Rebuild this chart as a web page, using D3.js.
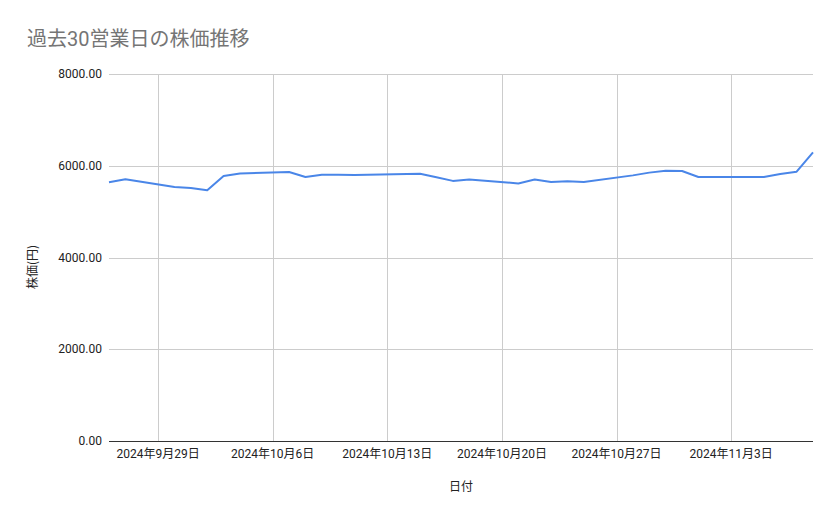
<!DOCTYPE html>
<html>
<head>
  <meta charset="utf-8">
  <title>過去30営業日の株価推移</title>
  <script src="https://d3js.org/d3.v7.min.js"></script>
  <style>
    body { margin: 0; background: #fff; }
    svg { font-family: Roboto, "Noto Sans CJK JP", sans-serif; }
    .grid line { stroke: #cccccc; stroke-width: 1; shape-rendering: crispEdges; }
    .tick-label { font-size: 12px; fill: #222; }
    .line { fill: none; stroke: #4a86e8; stroke-width: 2; stroke-linejoin: round; }
  </style>
</head>
<body>
<svg width="839" height="519"></svg>
<script>
// trading days (30 business days) and closing prices (円)
var dates = [
  "2024-09-26", "2024-09-27",
  "2024-09-30", "2024-10-01", "2024-10-02", "2024-10-03", "2024-10-04",
  "2024-10-07", "2024-10-08", "2024-10-09", "2024-10-10", "2024-10-11",
  "2024-10-15", "2024-10-16", "2024-10-17", "2024-10-18",
  "2024-10-21", "2024-10-22", "2024-10-23", "2024-10-24", "2024-10-25",
  "2024-10-28", "2024-10-29", "2024-10-30", "2024-10-31", "2024-11-01",
  "2024-11-05", "2024-11-06", "2024-11-07", "2024-11-08"
];
var prices = [
  5640, 5705,
  5535, 5515, 5465, 5775, 5830,
  5865, 5755, 5805, 5805, 5800,
  5825, 5750, 5670, 5700,
  5615, 5700, 5645, 5660, 5645,
  5790, 5850, 5890, 5885, 5755,
  5755, 5820, 5870, 6290
];
var xTickDates = ["2024-09-29", "2024-10-06", "2024-10-13", "2024-10-20", "2024-10-27", "2024-11-03"];
var yTicks = [0, 2000, 4000, 6000, 8000];

var title = "過去30営業日の株価推移",
  xTitle = "日付",
  yTitle = "株価(円)";

var parse = d3.timeParse("%Y-%m-%d"),
  fmtDate = d3.timeFormat("%Y年%-m月%-d日"),
  fmtVal = d3.format(".2f");

var data = dates.map(function(d, i) {
  return { date: parse(d), value: prices[i] };
});

var svg = d3.select("svg"),
  margin = { top: 74, right: 26, bottom: 78, left: 109 },
  width = +svg.attr("width") - margin.left - margin.right,
  height = +svg.attr("height") - margin.top - margin.bottom,
  g = svg.append("g").attr("transform", "translate(" + margin.left + "," + margin.top + ")");

var x = d3.scaleTime()
  .domain(d3.extent(data, function(d) { return d.date; }))
  .range([0, width]);

var y = d3.scaleLinear()
  .domain([0, 8000])
  .range([height, 0]);

// title
svg.append("text")
  .attr("x", 27)
  .attr("y", 46)
  .style("font-size", "20px")
  .style("fill", "#757575")
  .text(title);

// horizontal grid
var grid = g.append("g").attr("class", "grid");
grid.selectAll(".h")
  .data(yTicks.filter(function(v) { return v > 0; }))
  .enter().append("line")
  .attr("x1", 0)
  .attr("x2", width)
  .attr("y1", function(d) { return Math.round(y(d)) + 0.5; })
  .attr("y2", function(d) { return Math.round(y(d)) + 0.5; });

// vertical grid
grid.selectAll(".v")
  .data(xTickDates.map(parse))
  .enter().append("line")
  .attr("x1", function(d) { return Math.round(x(d)) + 0.5; })
  .attr("x2", function(d) { return Math.round(x(d)) + 0.5; })
  .attr("y1", 0)
  .attr("y2", height);

// y labels
g.selectAll(".ylab")
  .data(yTicks)
  .enter().append("text")
  .attr("class", "tick-label")
  .attr("x", -7)
  .attr("y", function(d) { return y(d); })
  .attr("dy", "0.35em")
  .attr("text-anchor", "end")
  .text(fmtVal);

// x labels
g.selectAll(".xlab")
  .data(xTickDates.map(parse))
  .enter().append("text")
  .attr("class", "tick-label")
  .attr("x", function(d) { return x(d); })
  .attr("y", height + 17)
  .attr("text-anchor", "middle")
  .text(fmtDate);

// the price line
var line = d3.line()
  .x(function(d) { return x(d.date); })
  .y(function(d) { return y(d.value); });

g.append("path")
  .datum(data)
  .attr("class", "line")
  .attr("d", line);

// baseline
g.append("line")
  .attr("x1", 0)
  .attr("x2", width)
  .attr("y1", Math.round(y(0)) + 0.5)
  .attr("y2", Math.round(y(0)) + 0.5)
  .style("stroke", "#333")
  .style("shape-rendering", "crispEdges");

// axis titles
svg.append("text")
  .attr("x", margin.left + width / 2)
  .attr("y", 491)
  .attr("text-anchor", "middle")
  .style("font-size", "12px")
  .style("fill", "#222")
  .text(xTitle);

svg.append("text")
  .attr("transform", "translate(37,267) rotate(-90)")
  .attr("text-anchor", "middle")
  .style("font-family", "'Noto Sans CJK JP', sans-serif")
  .style("font-size", "12px")
  .style("fill", "#222")
  .text(yTitle);
</script>
</body>
</html>
